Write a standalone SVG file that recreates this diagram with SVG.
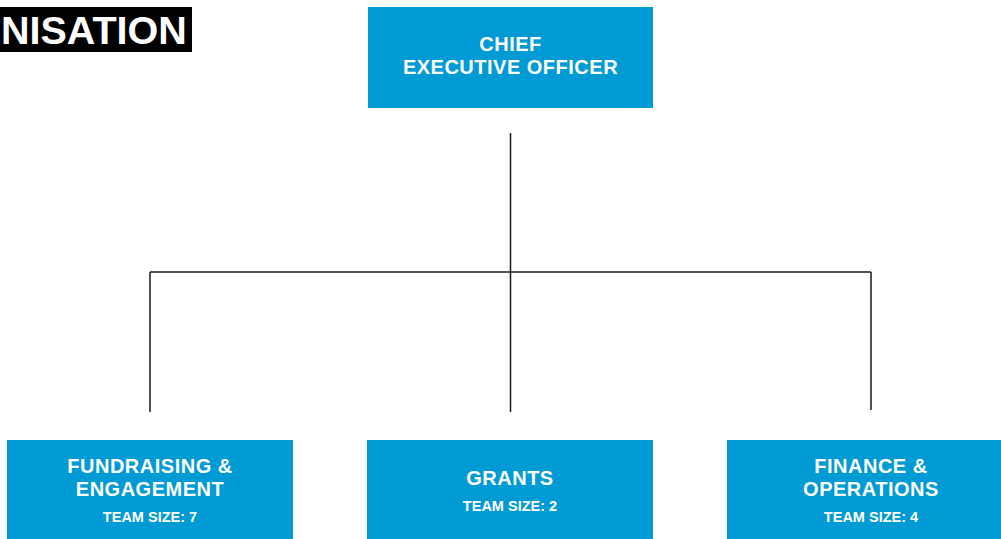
<svg xmlns="http://www.w3.org/2000/svg" width="1001" height="539" viewBox="0 0 1001 539">
<style>
.box{fill:#009AD4}
.t{font-family:"Liberation Sans",Arial,sans-serif;font-weight:700;fill:#fff;text-anchor:middle}
.h{font-size:20px;letter-spacing:0.5px}
.s{font-size:14.5px}
.ln{stroke:#1a1a1a;stroke-width:1.5;fill:none}
</style>
<rect width="1001" height="539" fill="#fff"/>
<g id="title">
<rect x="0" y="7" width="192" height="45" fill="#000"/>
<text x="1" y="44" font-family="Liberation Sans,Arial,sans-serif" font-weight="700" font-size="39.5" fill="#fff">NISATION</text>
</g>
<g id="connectors">
<path class="ln" d="M510.5 133V412M150 272H871M150 272V412M871 272V410"/>
</g>
<g id="ceo">
<rect class="box" x="368" y="7" width="285" height="101"/>
<text class="t h" x="510.5" y="51">CHIEF</text>
<text class="t h" x="510.5" y="74">EXECUTIVE OFFICER</text>
</g>
<g id="fundraising">
<rect class="box" x="7" y="440" width="286" height="99"/>
<text class="t h" x="150" y="473">FUNDRAISING &amp;</text>
<text class="t h" x="150" y="496">ENGAGEMENT</text>
<text class="t s" x="150" y="522">TEAM SIZE: 7</text>
</g>
<g id="grants">
<rect class="box" x="367" y="440" width="286" height="99"/>
<text class="t h" x="510" y="485">GRANTS</text>
<text class="t s" x="510" y="511">TEAM SIZE: 2</text>
</g>
<g id="finance">
<rect class="box" x="727" y="440" width="286" height="99"/>
<text class="t h" x="871" y="473">FINANCE &amp;</text>
<text class="t h" x="871" y="496">OPERATIONS</text>
<text class="t s" x="871" y="522">TEAM SIZE: 4</text>
</g>
</svg>
